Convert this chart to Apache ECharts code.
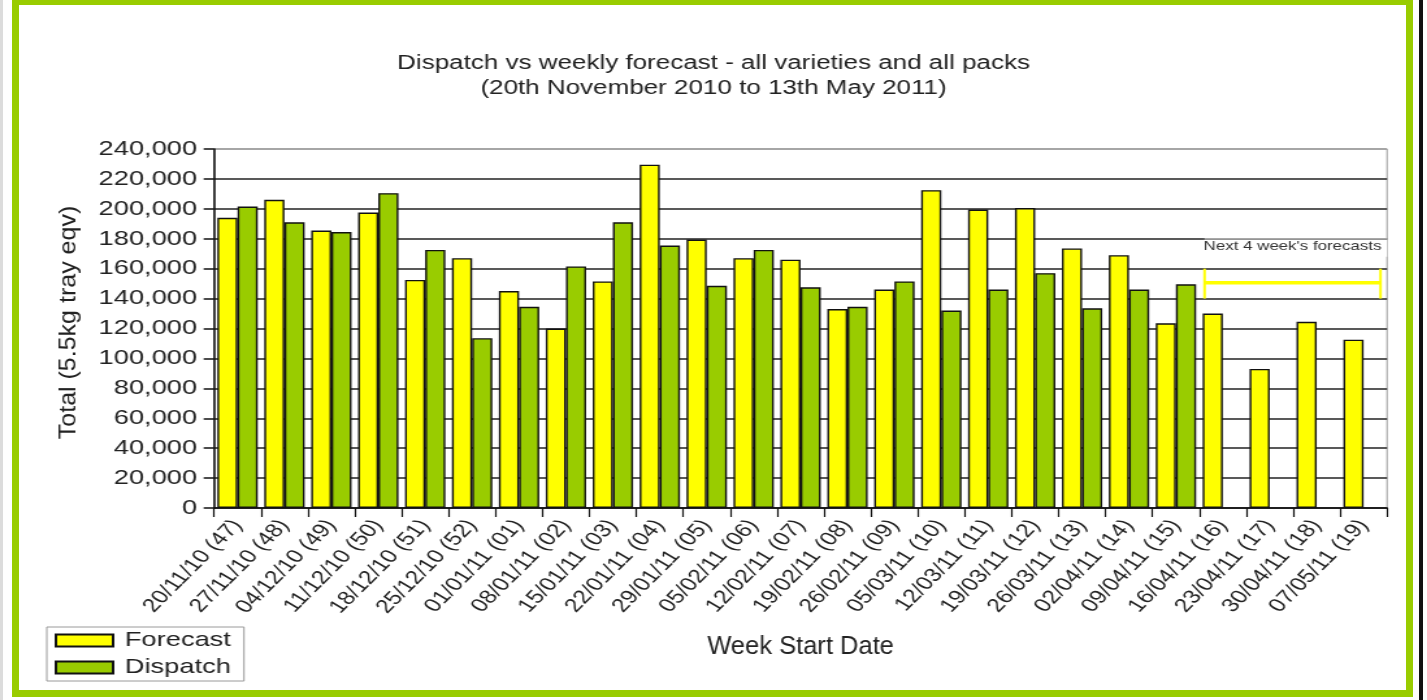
<!DOCTYPE html>
<html>
<head>
<meta charset="utf-8">
<title>Dispatch vs weekly forecast</title>
<script src="https://cdn.jsdelivr.net/npm/echarts@6/dist/echarts.min.js"></script>
<style>
  html, body { margin: 0; padding: 0; background: #fff; }
  #wrap { position: relative; width: 1427px; height: 700px; overflow: hidden; background: #fff; }
  /* the source image is stretched sideways, so the chart is drawn narrower and scaled in x */
  #main { position: absolute; left: 0; top: 0; width: 1098px; height: 700px; transform: scaleX(1.2997); transform-origin: 0 0; }
  .frame { position: absolute; left: 12px; top: -2px; width: 1401px; height: 699px; border: 7px solid #99cc00; box-sizing: border-box; pointer-events: none; }
  .edge { position: absolute; left: 0; top: 0; width: 3px; height: 700px; background: #dcdcdc; }
  .rule { position: absolute; left: 1419px; top: 0; width: 4px; height: 700px; background: #111; }
</style>
</head>
<body>
<div id="wrap">
  <div id="main"></div>
  <div class="edge"></div>
  <div class="frame"></div>
  <div class="rule"></div>
</div>
<script>
  const SX = 1.2997; // matches the css scaleX above

  // week start dates (week number)
  const categories = [
    '20/11/10 (47)', '27/11/10 (48)', '04/12/10 (49)', '11/12/10 (50)', '18/12/10 (51)',
    '25/12/10 (52)', '01/01/11 (01)', '08/01/11 (02)', '15/01/11 (03)', '22/01/11 (04)',
    '29/01/11 (05)', '05/02/11 (06)', '12/02/11 (07)', '19/02/11 (08)', '26/02/11 (09)',
    '05/03/11 (10)', '12/03/11 (11)', '19/03/11 (12)', '26/03/11 (13)', '02/04/11 (14)',
    '09/04/11 (15)', '16/04/11 (16)', '23/04/11 (17)', '30/04/11 (18)', '07/05/11 (19)'
  ];
  const forecast = [
    194000, 206000, 185500, 197500, 152500, 167000, 145000, 120000, 151500, 229500,
    179500, 167000, 166000, 133000, 146000, 212500, 199500, 200500, 173500, 169000,
    123500, 130000, 93000, 124500, 112500
  ];
  // no dispatch yet for the last 4 weeks
  const dispatch = [
    201500, 191000, 184500, 210500, 172500, 113500, 134500, 161500, 191000, 175500,
    148500, 172500, 147500, 134500, 151500, 132000, 146000, 157000, 133500, 146000,
    149500, null, null, null, null
  ];
  const noteText = "Next 4 week's forecasts";
  const noteFrom = 21;   // first forecast-only week
  const noteTo = 24;
  const noteLine = 180000;      // grid line the note hangs from
  const bracketValue = 150600;
  const bracketTop = 160000;
  const bracketBottom = 140000;
  const xName = 'Week Start Date';
  const yName = 'Total (5.5kg tray eqv)';

  const font = '"Liberation Sans", Arial, sans-serif';
  const ink = '#222';
  // last split line is the plot border (grey), the rest are black
  const gridColors = Array(12).fill('#222').concat(['#9a9a9a']);

  const chart = echarts.init(document.getElementById('main'), null, { renderer: 'canvas' });

  const option = {
    animation: false,
    backgroundColor: 'transparent',
    textStyle: { fontFamily: font, color: ink },
    title: {
      text: 'Dispatch vs weekly forecast - all varieties and all packs\n(20th November 2010 to 13th May 2011)',
      left: 'center',
      top: 46,
      textStyle: { fontSize: 20, lineHeight: 25, fontWeight: 'normal', color: ink, fontFamily: font }
    },
    legend: {
      orient: 'vertical',
      left: 36,
      top: 627,
      icon: 'rect',
      itemWidth: 44,
      itemHeight: 12,
      itemGap: 6,
      padding: [3, 10, 3, 6],
      borderColor: '#9a9a9a',
      borderWidth: 1,
      textStyle: { fontSize: 21, color: ink, fontFamily: font, padding: [0, 0, 0, 4] },
      data: ['Forecast', 'Dispatch']
    },
    grid: {
      left: 164.7,
      right: 30.8,
      top: 149,
      bottom: 192,
      show: true,
      borderColor: '#9a9a9a',
      borderWidth: 1
    },
    xAxis: {
      type: 'category',
      data: categories,
      boundaryGap: true,
      axisLine: { lineStyle: { color: '#111', width: 1.5 } },
      axisTick: { show: true, interval: 0, length: 9, lineStyle: { color: '#111', width: 1.2 } },
      axisLabel: { interval: 0, rotate: 52, fontSize: 19, color: ink, margin: 14, fontFamily: font }
    },
    yAxis: {
      type: 'value',
      min: 0,
      max: 240000,
      interval: 20000,
      axisLine: { show: true, lineStyle: { color: '#111', width: 1.5 } },
      axisTick: { show: true, length: 8, lineStyle: { color: '#111', width: 1.5 } },
      axisLabel: {
        fontSize: 21, color: ink, margin: 13, fontFamily: font,
        formatter: (v) => v.toLocaleString('en-US')
      },
      splitLine: { show: true, lineStyle: { color: gridColors, width: 1.5 } }
    },
    series: [
      {
        name: 'Forecast',
        type: 'bar',
        data: forecast,
        barGap: '0%',
        barCategoryGap: '14%',
        itemStyle: { color: '#ffff00', borderColor: '#111', borderWidth: 1.4 }
      },
      {
        name: 'Dispatch',
        type: 'bar',
        data: dispatch,
        barGap: '0%',
        barCategoryGap: '14%',
        itemStyle: { color: '#99cc00', borderColor: '#111', borderWidth: 1.4 }
      }
    ]
  };

  chart.setOption(option);

  // annotation over the forecast-only weeks
  const px = (i) => chart.convertToPixel({ xAxisIndex: 0 }, categories[i]);
  const py = (v) => chart.convertToPixel({ yAxisIndex: 0 }, v);
  const band = px(1) - px(0);
  const x0 = px(noteFrom) - band / 2 + 4;
  const x1 = px(noteTo) + band / 2 - 5;
  const yNote = py(noteLine);
  const yb = py(bracketValue);
  const midX = (px(0) + px(categories.length - 1)) / 2;
  const midY = (py(0) + py(240000)) / 2;

  chart.setOption({
    graphic: [
      // axis titles, un-stretched so they keep normal proportions
      {
        type: 'text', z: 50, x: midX, y: 647, scaleX: 1 / SX,
        style: { text: xName, fill: ink, font: '25.5px ' + font, align: 'center', verticalAlign: 'middle' }
      },
      {
        type: 'text', z: 50, x: 68 / SX, y: midY - 6, rotation: Math.PI / 2, scaleY: 1 / SX,
        style: { text: yName, fill: ink, font: '25px ' + font, align: 'center', verticalAlign: 'middle' }
      },
      { type: 'rect', z: 100, shape: { x: x0, y: yNote + 1, width: x1 - x0 + 5, height: 17 }, style: { fill: '#fff' } },
      { type: 'line', z: 101, shape: { x1: x0, y1: yNote, x2: x1 + 5, y2: yNote }, style: { stroke: '#a8a8a8', lineWidth: 1.5 } },
      {
        type: 'text', z: 102, x: (x0 + x1) / 2, y: yNote + 8,
        style: { text: noteText, fill: '#333', font: '13px ' + font, align: 'center', verticalAlign: 'middle' }
      },
      { type: 'line', z: 101, shape: { x1: x0, y1: yb, x2: x1, y2: yb }, style: { stroke: '#ffff00', lineWidth: 3.5 } },
      { type: 'line', z: 101, shape: { x1: x0, y1: py(bracketTop), x2: x0, y2: py(bracketBottom) }, style: { stroke: '#ffff00', lineWidth: 2 } },
      { type: 'line', z: 101, shape: { x1: x1, y1: py(bracketTop), x2: x1, y2: py(bracketBottom) }, style: { stroke: '#ffff00', lineWidth: 2 } }
    ]
  });
</script>
</body>
</html>
